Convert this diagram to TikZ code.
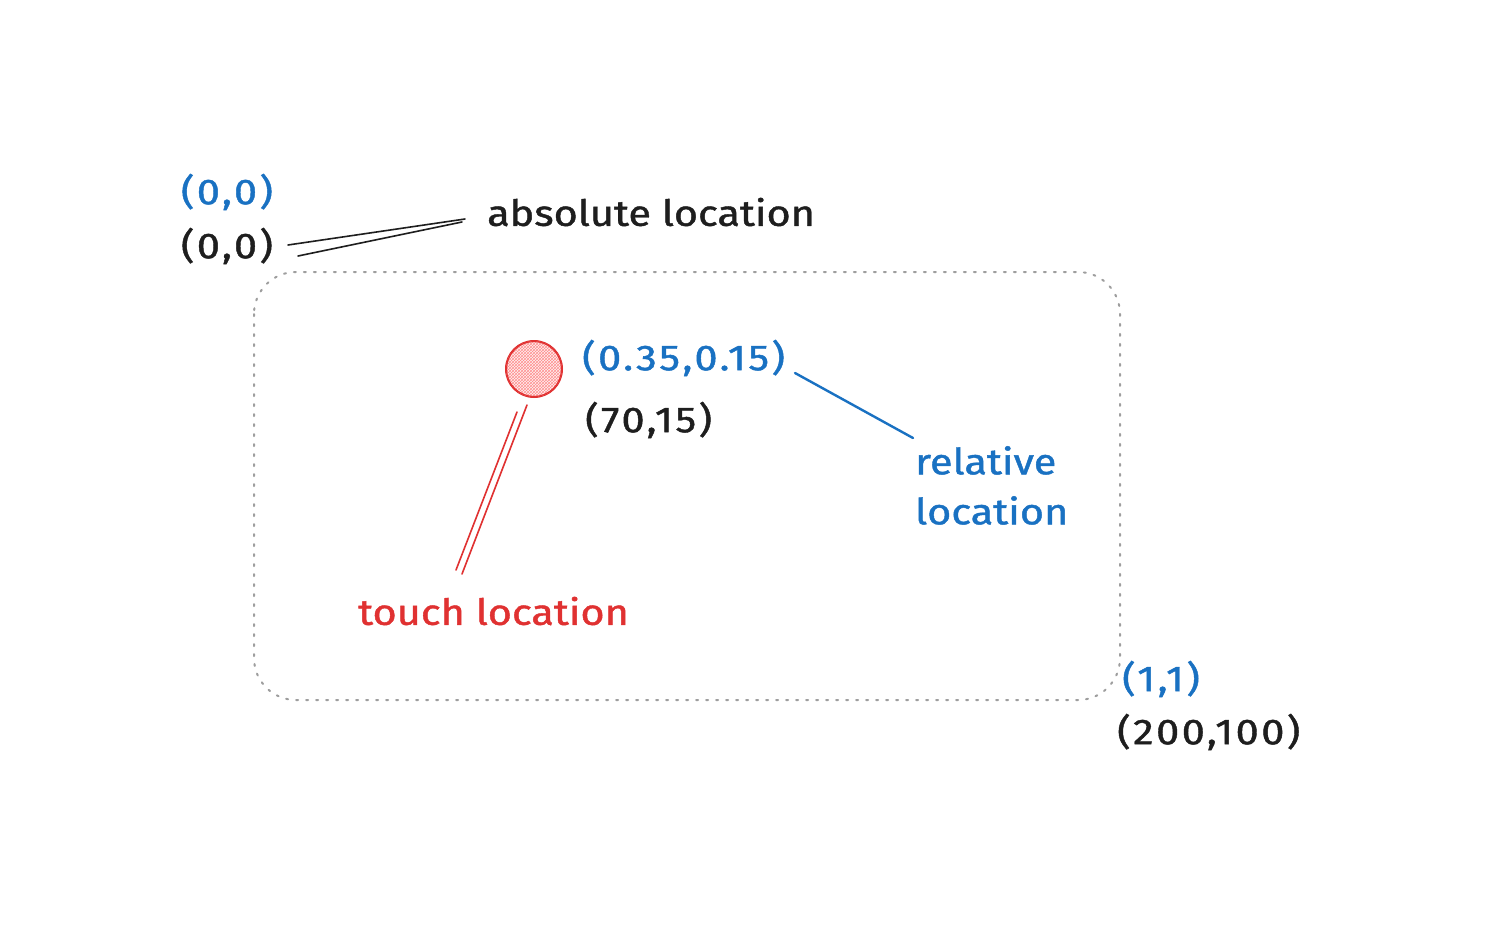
\documentclass[tikz,border=0pt]{standalone}
\usepackage{fontspec}
\setmainfont{Fira Sans}[FakeStretch=1.15, FakeBold=1.2]
\newfontfamily\numfont{Fira Sans}[FakeStretch=1.15, FakeBold=1.2, LetterSpace=7]
\usetikzlibrary{patterns}
\definecolor{exblue}{HTML}{1971C2}
\definecolor{exred}{HTML}{E03131}
\definecolor{exblack}{HTML}{1E1E1E}
\definecolor{exgray}{HTML}{9E9E9E}
\definecolor{expink}{HTML}{FF8F8F}
\tikzset{
  lbl/.style={inner sep=0pt, font=\fontsize{36}{50}\selectfont},
  num/.style={inner sep=0pt, font=\numfont\fontsize{36}{50}\selectfont},
  bluelbl/.style={lbl, text=exblue},
  blacklbl/.style={lbl, text=exblack},
  redlbl/.style={lbl, text=exred},
  bluenum/.style={num, text=exblue},
  blacknum/.style={num, text=exblack},
  leader/.style={line width=1.6pt, line cap=round},
}
\begin{document}
\begin{tikzpicture}[x=1pt,y=-1pt]
\useasboundingbox[fill=white] (0,0) rectangle (1490,929);
% frame
\draw[exgray, line width=2pt, dash pattern=on 2pt off 8pt, line cap=round, rounded corners=42pt]
  (254,272) rectangle (1120,700);
% top-left labels
\node[bluenum] (o1) at (227,192) {(0,0)};
\node[blacknum] (o2) at (227,246) {(0,0)};
\node[blacklbl, anchor=west] (abs) at (487,212) {absolute location};
\coordinate (a1) at (288,245); \coordinate (a2) at (465,219);
\coordinate (a3) at (298,256); \coordinate (a4) at (462,222);
\draw[leader, exblack] (a1) -- (a2);
\draw[leader, exblack] (a3) -- (a4);
% touch point
\node[circle, minimum size=56pt, inner sep=0pt, draw=exred, line width=2pt,
      fill=exred!6, postaction={pattern=crosshatch, pattern color=expink}] (tp) at (534,369) {};
\draw[exred, line width=1pt] (534,369) circle (27.5pt);
\node[bluenum, anchor=west] (rel) at (582,358) {(0.35,0.15)};
\node[blacknum, anchor=west] (abs2) at (585,420) {(70,15)};
% relative location
\coordinate (r1) at (795,373); \coordinate (r2) at (913,438);
\draw[leader, exblue, line width=2.4pt] (r1) -- (r2);
\node[bluelbl, anchor=north west, align=left] (rl) at (915,446) {relative\\location};
% touch location
\coordinate (t1) at (527,405); \coordinate (t2) at (462,574);
\coordinate (t3) at (517,412); \coordinate (t4) at (456,570);
\draw[leader, exred] (t1) -- (t2);
\draw[leader, exred] (t3) -- (t4);
\node[redlbl, anchor=west] (tl) at (358,611) {touch location};
% bottom-right labels
\node[bluenum, anchor=west] (c1) at (1122,679) {(1,1)};
\node[blacknum, anchor=west] (c2) at (1117,732) {(200,100)};
\end{tikzpicture}
\end{document}
